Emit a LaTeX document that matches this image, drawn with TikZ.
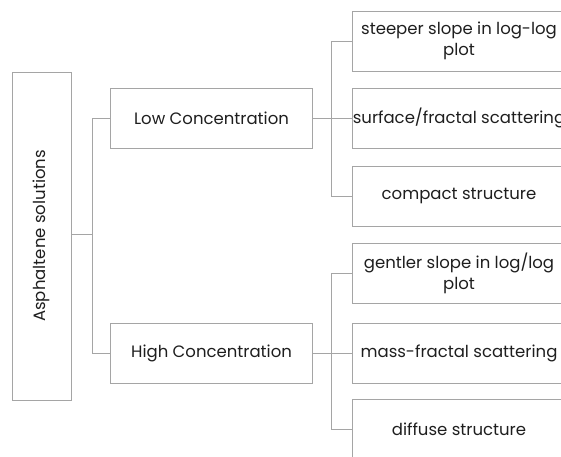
\documentclass[tikz,border=0pt]{standalone}
\usepackage{fontspec}
\setmainfont{Poppins}
\usetikzlibrary{positioning,calc}
\definecolor{linegray}{RGB}{165,165,165}
\definecolor{textgray}{RGB}{30,30,30}

\tikzset{
  box/.style={draw=linegray, line width=1pt, rectangle, text=textgray,
    font=\fontsize{16.5}{21}\selectfont, align=center, inner sep=0pt},
  leafbox/.style={box, minimum width=214pt, minimum height=60pt},
  midbox/.style={box, minimum width=202pt, minimum height=60pt},
  link/.style={draw=linegray, line width=1pt}
}

\begin{document}
\begin{tikzpicture}[x=1pt, y=-1pt]
    \useasboundingbox (0,0) rectangle (561,456);
    \clip (0,0) rectangle (561,456);

    % Root
    \node[box, minimum width=59pt, minimum height=328pt] (root) at (41.5,236)
        {\rotatebox{90}{Asphaltene solutions}};

    % Concentration levels
    \node[midbox] (low) at (211.5,118) {Low Concentration};
    \node[midbox] (high) at (211.5,353) {High Concentration};

    % Low concentration features
    \node[leafbox] (steep) at (459,41) {steeper slope in log-log\\plot};
    \node[leafbox] (surf) at (459,118) {surface/fractal scattering};
    \node[leafbox] (compact) at (459,196) {compact structure};

    % High concentration features
    \node[leafbox] (gentle) at (459,273) {gentler slope in log/log\\plot};
    \node[leafbox] (mass) at (459,353) {mass-fractal scattering};
    \node[leafbox] (diffuse) at (459,429) {diffuse structure};

    % Connectors
    \coordinate (rj) at (92,234);
    \coordinate (lj) at (331,118);
    \coordinate (hj) at (331,353);
    \draw[link] (root.east |- rj) -- (rj);
    \draw[link] (low.west) -- (low.west -| rj) -- (high.west -| rj) -- (high.west);
    \draw[link] (low.east) -- (lj);
    \draw[link] (steep.west) -- (steep.west -| lj) -- (compact.west -| lj) -- (compact.west);
    \draw[link] (surf.west) -- (lj);
    \draw[link] (high.east) -- (hj);
    \draw[link] (gentle.west) -- (gentle.west -| hj) -- (diffuse.west -| hj) -- (diffuse.west);
    \draw[link] (mass.west) -- (hj);
\end{tikzpicture}
\end{document}
